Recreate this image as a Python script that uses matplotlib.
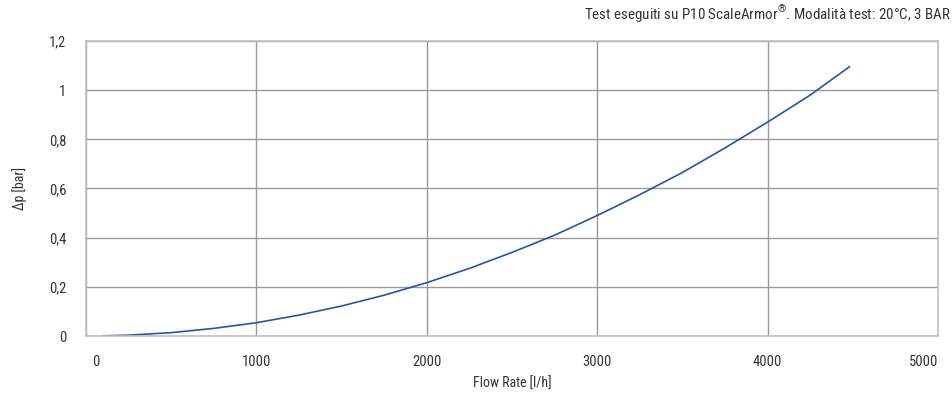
import matplotlib
matplotlib.use("Agg")
import matplotlib.pyplot as plt
from matplotlib.transforms import ScaledTranslation

# Flow rate [l/h] vs pressure drop [bar]
flow = [100, 250, 500, 750, 1000, 1250, 1500, 1750, 2000, 2250,
        2500, 2750, 3000, 3250, 3500, 3750, 4000, 4250, 4480]
dp = [0.0006, 0.0034, 0.0136, 0.031, 0.054, 0.085, 0.122, 0.166, 0.217, 0.275,
      0.34, 0.41, 0.49, 0.575, 0.665, 0.765, 0.87, 0.98, 1.095]

x_ticks = [0, 1000, 2000, 3000, 4000, 5000]
y_ticks = [0, 0.2, 0.4, 0.6, 0.8, 1.0, 1.2]
y_labels = ["0", "0,2", "0,4", "0,6", "0,8", "1", "1,2"]

plt.rcParams["font.family"] = ["Roboto Condensed", "DejaVu Sans"]
plt.rcParams["mathtext.fontset"] = "custom"
plt.rcParams["mathtext.rm"] = "Roboto Condensed"

fig = plt.figure(figsize=(9.52, 3.96), dpi=100)
ax = fig.add_axes([0.0903, 0.1515, 0.895, 0.745])

ax.plot(flow, dp, color="#2157a8", lw=1.2)

ax.set_xlim(0, 5000)
ax.set_ylim(0, 1.2)
ax.set_xticks(x_ticks)
ax.set_yticks(y_ticks)
ax.set_yticklabels(y_labels)
ax.grid(True, color="#9a9a9a", lw=1)
ax.set_axisbelow(True)
for s in ax.spines.values():
    s.set_color("#c0c0c0")
    s.set_linewidth(1.2)
ax.tick_params(length=0, labelsize=10.5, colors="#333333")
ax.tick_params(axis="x", pad=14)
ax.tick_params(axis="y", pad=14)
xl = ax.get_xticklabels()
xl[0].set_ha("left")
xl[0].set_transform(xl[0].get_transform() + ScaledTranslation(6 / 100, 0, fig.dpi_scale_trans))
xl[-1].set_ha("right")

ax.set_xlabel("Flow Rate [l/h]", fontsize=10, color="#333333", labelpad=5)
ax.set_ylabel("Δp [bar]", fontsize=10, color="#333333", labelpad=16)

fig.text(0.999, 0.965,
         r"Test eseguiti su P10 ScaleArmor$^{\mathrm{®}}$. Modalità test: 20°C, 3 BAR",
         ha="right", va="center", fontsize=10.8, color="#333333")

fig.savefig("out.png", dpi=100)
